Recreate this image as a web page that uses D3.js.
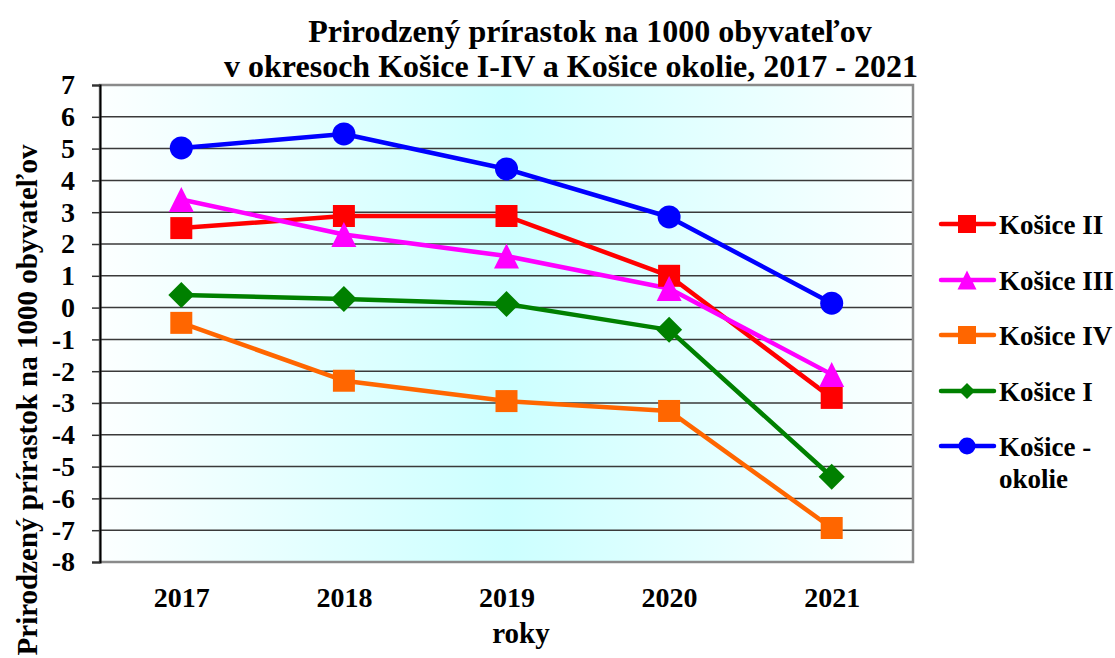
<!DOCTYPE html>
<html><head><meta charset="utf-8">
<script src="https://cdn.jsdelivr.net/npm/d3@7"></script>
<style>body{margin:0;background:#fff}svg{display:block}text{font-family:"Liberation Serif","Times New Roman",serif;font-weight:bold}</style>
</head><body>
<script>
const years = ["2017","2018","2019","2020","2021"];
const yTicks = [7,6,5,4,3,2,1,0,-1,-2,-3,-4,-5,-6,-7,-8];
const seriesNames = ["Košice II","Košice III","Košice IV","Košice I","Košice - okolie"];
const kosice2 = [2.5, 2.88, 2.88, 1.0, -2.84];
const kosice3 = [3.4, 2.3, 1.62, 0.6, -2.1];
const kosice4 = [-0.48, -2.3, -2.94, -3.25, -6.93];
const kosice1 = [0.4, 0.27, 0.11, -0.7, -5.32];
const okolie = [5.02, 5.46, 4.36, 2.85, 0.14];
const colors = ["#ff0000","#ff00ff","#ff6600","#008000","#0000ff"];

const triSym = {draw(ctx,size){const s=Math.sqrt(size);ctx.moveTo(0,-s/2);ctx.lineTo(s/2,s/2);ctx.lineTo(-s/2,s/2);ctx.closePath();}};
const diaSym = {draw(ctx,size){const r=Math.sqrt(size)/2;ctx.moveTo(0,-r);ctx.lineTo(r,0);ctx.lineTo(0,r);ctx.lineTo(-r,0);ctx.closePath();}};
const symbols = [d3.symbolSquare, triSym, d3.symbolSquare, diaSym, d3.symbolCircle];
const symSizes = [484, 625, 484, 676, 415];
const legSizes = [324, 361, 324, 256, 227];
const data = [kosice2, kosice3, kosice4, kosice1, okolie];

const W=1115,H=658;
const svg=d3.select("body").append("svg").attr("width",W).attr("height",H);
const m={l:100,t:85,r:913,b:562};
const x=d3.scalePoint().domain(years).range([m.l,m.r]).padding(0.5);
const y=d3.scaleLinear().domain([-8,7]).range([m.b,m.t]);

const defs=svg.append("defs");
const g=defs.append("linearGradient").attr("id","bg").attr("x1","0").attr("x2","1").attr("y1","0").attr("y2","0");
g.append("stop").attr("offset","0").attr("stop-color","#fcffff");
g.append("stop").attr("offset","0.5").attr("stop-color","#ccffff");
g.append("stop").attr("offset","1").attr("stop-color","#fcffff");

svg.append("rect").attr("x",m.l).attr("y",m.t).attr("width",m.r-m.l).attr("height",m.b-m.t).attr("fill","url(#bg)");

// grid
svg.append("g").selectAll("line").data(yTicks).join("line")
  .attr("x1",m.l).attr("x2",m.r).attr("y1",d=>y(d)).attr("y2",d=>y(d))
  .attr("stroke","#3a3a3a").attr("stroke-width",1.5);

// border (gray)
svg.append("rect").attr("x",m.l).attr("y",m.t).attr("width",m.r-m.l).attr("height",m.b-m.t)
  .attr("fill","none").attr("stroke","#8a8a8a").attr("stroke-width",2.5);

// y axis
const ya=svg.append("g").attr("transform",`translate(${m.l},0)`)
  .call(d3.axisLeft(y).tickValues(yTicks).tickSize(8).tickPadding(17).tickFormat(d=>String(d)));
ya.select(".domain").attr("stroke","#000").attr("stroke-width",2);
ya.selectAll(".tick line").attr("stroke","#333").attr("stroke-width",1.5);
ya.selectAll(".tick text").attr("font-size",28).attr("fill","#000").attr("font-family","Liberation Serif").attr("font-weight","bold");

// x labels
const xa=svg.append("g").attr("transform",`translate(0,${m.b})`)
  .call(d3.axisBottom(x).tickSize(0).tickPadding(25));
xa.select(".domain").remove();
xa.selectAll(".tick text").attr("font-size",28).attr("fill","#000").attr("font-family","Liberation Serif").attr("font-weight","bold");

// lines & markers
const line=d3.line().x((d,i)=>x(years[i])).y(d=>y(d));
data.forEach((vals,k)=>{
  svg.append("path").datum(vals).attr("d",line).attr("fill","none").attr("stroke",colors[k]).attr("stroke-width",4.5).attr("stroke-linejoin","round");
});
data.forEach((vals,k)=>{
  svg.append("g").selectAll("path").data(vals).join("path")
    .attr("d",d3.symbol().type(symbols[k]).size(symSizes[k]))
    .attr("transform",(d,i)=>`translate(${x(years[i])},${y(d)})`)
    .attr("fill",colors[k]);
});

// title
svg.append("text").attr("x",590).attr("y",42).attr("text-anchor","middle").attr("font-size",32).text("Prirodzený prírastok na 1000 obyvateľov");
svg.append("text").attr("x",571).attr("y",77).attr("text-anchor","middle").attr("font-size",32).text("v okresoch Košice I-IV a Košice okolie, 2017 - 2021");

// axis titles
svg.append("text").attr("transform","translate(37,400) rotate(-90)").attr("text-anchor","middle").attr("font-size",29).text("Prirodzený prírastok na 1000 obyvateľov");
svg.append("text").attr("x",521).attr("y",643).attr("text-anchor","middle").attr("font-size",29).text("roky");

// legend
const legY=[224,280,335,391,446];
seriesNames.forEach((n,k)=>{
  const lg=svg.append("g").attr("transform",`translate(0,${legY[k]})`);
  lg.append("line").attr("x1",941).attr("x2",994).attr("y1",0).attr("y2",0).attr("stroke",colors[k]).attr("stroke-width",4.5).attr("stroke-linecap","round");
  lg.append("path").attr("d",d3.symbol().type(symbols[k]).size(legSizes[k])).attr("transform","translate(967,0)").attr("fill",colors[k]);
  if(k===4){
    const t=lg.append("text").attr("x",999).attr("y",10).attr("font-size",27);
    t.append("tspan").attr("x",999).attr("dy",0).text("Košice -");
    t.append("tspan").attr("x",999).attr("dy",32).text("okolie");
  } else {
    lg.append("text").attr("x",999).attr("y",10).attr("font-size",27).text(n);
  }
});
</script>
</body></html>
